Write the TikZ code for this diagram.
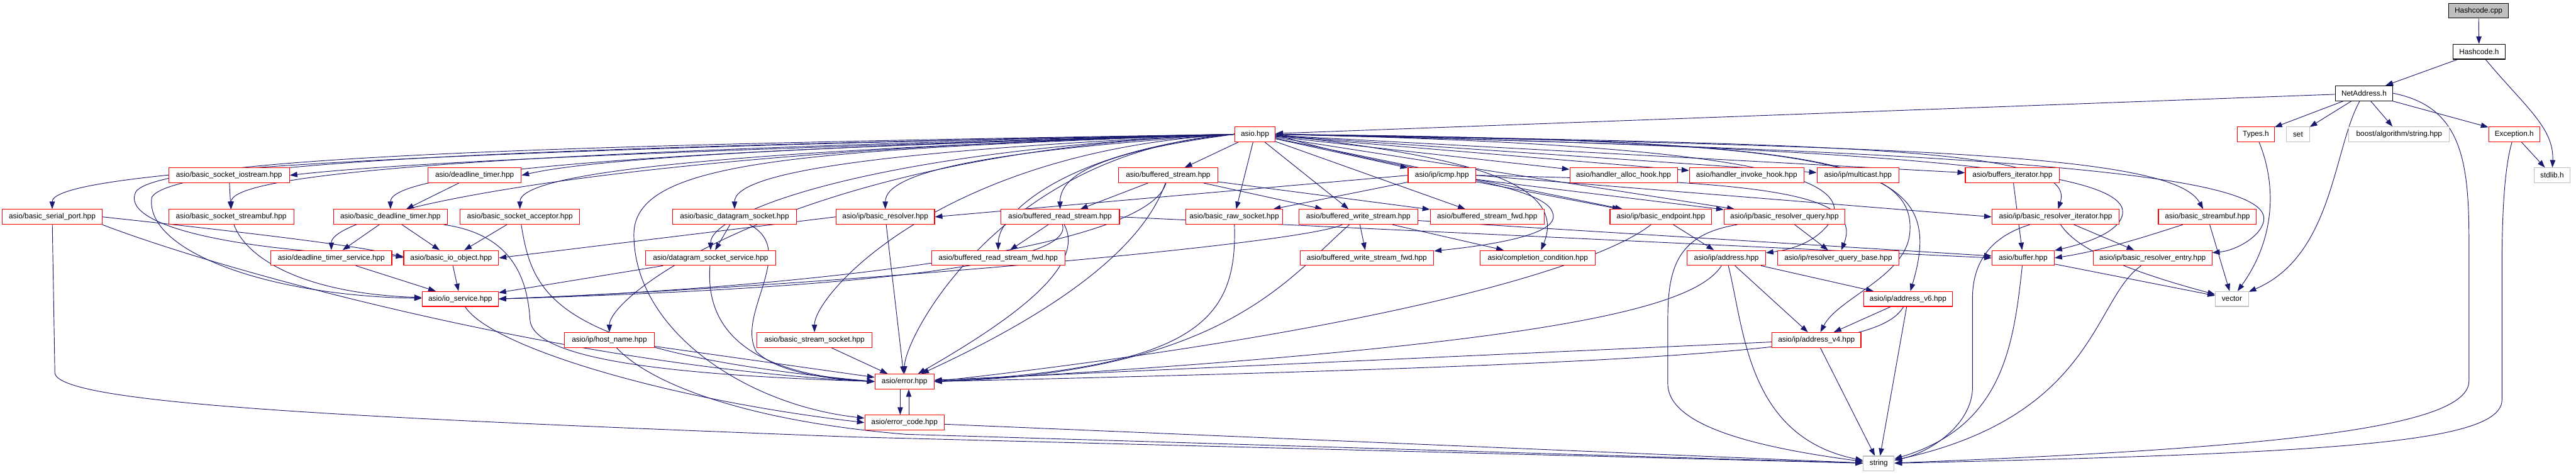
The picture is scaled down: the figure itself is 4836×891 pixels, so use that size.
\documentclass[tikz,border=0pt]{standalone}
\usepackage{fontspec}
\setmainfont{Liberation Sans}
\usetikzlibrary{arrows.meta,calc}
\definecolor{mblue}{HTML}{191970}
\definecolor{sysgray}{HTML}{BFBFBF}
\pgfdeclarelayer{edges}
\pgfsetlayers{edges,main}

\begin{document}
\begin{tikzpicture}[
  x=1pt, y=-1pt,
  font=\fontsize{14}{16}\selectfont,
  box/.style={draw, line width=1.3pt, fill=white, minimum height=28pt,
              inner xsep=3pt, inner ysep=0pt},
  hdr/.style={box, draw=red},
  loc/.style={box, draw=black},
  cur/.style={box, draw=black, fill=sysgray},
  sys/.style={box, draw=sysgray},
  dep/.style={draw=mblue, line width=1.1pt, -{Triangle[length=14pt,width=10pt]}},
  fan/.style={to path={.. controls ($(\tikztostart)!#1!(\tikztotarget|-\tikztostart)+(0,30)$)
              and ($(\tikztotarget)+(0,-85)$) .. (\tikztotarget)}},
  fan/.default=0.7
]
\useasboundingbox (0,0) rectangle (4836,891);

% ---- Top: the file and its own headers ----
\node[cur, minimum width=113pt] (cpp) at (4653,20) {Hashcode.cpp};
\node[loc, minimum width=98pt] (hch) at (4654,97) {Hashcode.h};
\node[loc, minimum width=108pt] (net) at (4438,175) {NetAddress.h};

% ---- Row 3 ----
\node[hdr, minimum width=76pt] (asio) at (2356,252) {asio.hpp};
\node[hdr, minimum width=69pt] (types) at (4235,252) {Types.h};
\node[sys, minimum width=43pt] (stdset) at (4314,252) {set};
\node[sys, minimum width=189pt] (boost) at (4504,252) {boost/algorithm/string.hpp};
\node[hdr, minimum width=96pt] (exc) at (4720,252) {Exception.h};

% ---- Row 4 ----
\node[hdr, minimum width=227pt] (bsiostream) at (430,329) {asio/basic\_socket\_iostream.hpp};
\node[hdr, minimum width=175pt] (dtimer) at (891,329) {asio/deadline\_timer.hpp};
\node[hdr, minimum width=187pt] (bstream) at (2193,329) {asio/buffered\_stream.hpp};
\node[hdr, minimum width=127pt] (icmp) at (2707,329) {asio/ip/icmp.hpp};
\node[hdr, minimum width=202pt] (halloc) at (3048,329) {asio/handler\_alloc\_hook.hpp};
\node[hdr, minimum width=215pt] (hinvoke) at (3279,329) {asio/handler\_invoke\_hook.hpp};
\node[hdr, minimum width=154pt] (mcast) at (3488,329) {asio/ip/multicast.hpp};
\node[hdr, minimum width=177pt] (bufit) at (3778,329) {asio/buffers\_iterator.hpp};
\node[sys, minimum width=67pt] (stdlib) at (4791,329) {stdlib.h};

% ---- Row 5 ----
\node[hdr, minimum width=187pt] (bserial) at (98,407) {asio/basic\_serial\_port.hpp};
\node[hdr, minimum width=235pt] (bsstreambuf) at (434,407) {asio/basic\_socket\_streambuf.hpp};
\node[hdr, minimum width=214pt] (bdtimer) at (733,407) {asio/basic\_deadline\_timer.hpp};
\node[hdr, minimum width=224pt] (bsacceptor) at (976,407) {asio/basic\_socket\_acceptor.hpp};
\node[hdr, minimum width=233pt] (bdgram) at (1379,407) {asio/basic\_datagram\_socket.hpp};
\node[hdr, minimum width=185pt] (ipbresolver) at (1662,407) {asio/ip/basic\_resolver.hpp};
\node[hdr, minimum width=223pt] (brstream) at (1990,407) {asio/buffered\_read\_stream.hpp};
\node[hdr, minimum width=182pt] (braw) at (2317,407) {asio/basic\_raw\_socket.hpp};
\node[hdr, minimum width=223pt] (bwstream) at (2550,407) {asio/buffered\_write\_stream.hpp};
\node[hdr, minimum width=214pt] (bsfwd) at (2792,407) {asio/buffered\_stream\_fwd.hpp};
\node[hdr, minimum width=191pt] (ipbendpoint) at (3118,407) {asio/ip/basic\_endpoint.hpp};
\node[hdr, minimum width=227pt] (ipbrquery) at (3350,407) {asio/ip/basic\_resolver\_query.hpp};
\node[hdr, minimum width=239pt] (ipbriter) at (3859,407) {asio/ip/basic\_resolver\_iterator.hpp};
\node[hdr, minimum width=184pt] (bstreambuf) at (4144,407) {asio/basic\_streambuf.hpp};

% ---- Row 6 ----
\node[hdr, minimum width=227pt] (dtservice) at (622,484) {asio/deadline\_timer\_service.hpp};
\node[hdr, minimum width=178pt] (bioobj) at (847,484) {asio/basic\_io\_object.hpp};
\node[hdr, minimum width=245pt] (dgservice) at (1334,484) {asio/datagram\_socket\_service.hpp};
\node[hdr, minimum width=250pt] (brsfwd) at (1874,484) {asio/buffered\_read\_stream\_fwd.hpp};
\node[hdr, minimum width=251pt] (bwsfwd) at (2566,484) {asio/buffered\_write\_stream\_fwd.hpp};
\node[hdr, minimum width=216pt] (compcond) at (2887,484) {asio/completion\_condition.hpp};
\node[hdr, minimum width=147pt] (ipaddr) at (3241,484) {asio/ip/address.hpp};
\node[hdr, minimum width=227pt] (iprqbase) at (3451,484) {asio/ip/resolver\_query\_base.hpp};
\node[hdr, minimum width=117pt] (buffer) at (3798,484) {asio/buffer.hpp};
\node[hdr, minimum width=223pt] (ipbrentry) at (4041,484) {asio/ip/basic\_resolver\_entry.hpp};

% ---- Rows 7 to 11 ----
\node[hdr, minimum width=143pt] (ioservice) at (864,561) {asio/io\_service.hpp};
\node[hdr, minimum width=167pt] (ipaddr6) at (3582,561) {asio/ip/address\_v6.hpp};
\node[sys, minimum width=62pt] (vector) at (4190,561) {vector};
\node[hdr, minimum width=168pt] (iphost) at (1144,638) {asio/ip/host\_name.hpp};
\node[hdr, minimum width=216pt] (bssocket) at (1529,638) {asio/basic\_stream\_socket.hpp};
\node[hdr, minimum width=167pt] (ipaddr4) at (3410,638) {asio/ip/address\_v4.hpp};
\node[hdr, minimum width=111pt] (error) at (1698,716) {asio/error.hpp};
\node[hdr, minimum width=149pt] (errcode) at (1698,793) {asio/error\_code.hpp};
\node[sys, minimum width=58pt] (string) at (3527,870) {string};

\begin{pgfonlayer}{edges}
% ---- Top wiring ----
\draw[dep] (cpp) -- (hch);
\draw[dep] (hch) -- (net);
\draw[dep] (hch) .. controls (4740,200) and (4795,240) .. (stdlib);
\draw[dep] (net) -- (asio);
\draw[dep] (net) -- (types);
\draw[dep] (net) -- (stdset);
\draw[dep] (net) -- (boost);
\draw[dep] (net) -- (exc);
\draw[dep] (net) .. controls (4380,280) and (4380,480) .. (vector);
\draw[dep] (net.east) .. controls (4620,200) and (4635,300) .. (4635,450)
  -- (4635,715) .. controls (4635,800) and (4300,840) .. (string);
\draw[dep] (exc) -- (stdlib);
\draw[dep] (exc) .. controls (4700,320) and (4697,420) .. (4697,500)
  -- (4697,750) .. controls (4697,830) and (4400,850) .. (string);
\draw[dep] (types) .. controls (4275,350) and (4270,450) .. (vector);

% ---- asio.hpp fan to the left ----
\foreach \t in {bserial,bsstreambuf,bdtimer,bsacceptor,
                bdgram,ipbresolver,brstream,dtservice,dgservice,brsfwd,
                iphost,bssocket,error}
  \draw[dep] (asio.west) to[fan] (\t);
\draw[dep] (asio.west) .. controls (1500,275) and (800,300) .. (bsiostream.east);
\draw[dep] (asio.west) .. controls (1700,270) and (1150,290) .. (dtimer.east);
\draw[dep] (asio.west) .. controls (1200,270) and (300,290) .. (255,360)
  .. controls (225,420) and (420,470) .. (bioobj);
\draw[dep] (asio.west) .. controls (1200,274) and (330,295) .. (285,370)
  .. controls (270,470) and (500,555) .. (ioservice);
\draw[dep] (asio.west) .. controls (1500,282) and (1190,300) .. (1190,440)
  .. controls (1190,620) and (1400,760) .. (errcode);

% ---- asio.hpp straight and to the right ----
\foreach \t in {bstream,braw,icmp,bwstream,bsfwd,ipbendpoint,halloc,
                hinvoke,mcast,bufit,ipbrquery}
  \draw[dep] (asio) -- (\t);
\draw[dep] (asio.east) .. controls (2600,320) and (2900,340) .. (2915,400)
  .. controls (2930,440) and (2800,460) .. (bwsfwd);
\draw[dep] (asio.east) .. controls (2700,290) and (2950,330) .. (compcond);
\draw[dep] (asio.east) .. controls (3200,270) and (3480,320) .. (3440,410)
  .. controls (3410,460) and (3350,470) .. (ipaddr);
\draw[dep] (asio.east) .. controls (3500,265) and (3660,300) .. (ipaddr6);
\draw[dep] (asio.east) .. controls (3400,262) and (3600,300) .. (3585,440)
  .. controls (3575,520) and (3450,560) .. (ipaddr4);
\draw[dep] (asio.east) .. controls (3500,270) and (3900,280) .. (ipbriter);
\draw[dep] (asio.east) .. controls (3600,275) and (4080,290) .. (bstreambuf);
\draw[dep] (asio.east) .. controls (3700,280) and (3990,330) .. (3985,400)
  .. controls (3980,440) and (3900,460) .. (buffer);
\draw[dep] (asio.east) .. controls (3800,285) and (4250,330) .. (4250,410)
  .. controls (4250,440) and (4200,470) .. (ipbrentry);

% ---- Left part ----
\draw[dep] (bsiostream) -- (bsstreambuf);
\draw[dep] (bsstreambuf) .. controls (460,480) and (560,550) .. (ioservice);
\draw[dep] (dtimer) -- (bdtimer);
\draw[dep] (bdtimer) -- (dtservice);
\draw[dep] (bdtimer) -- (bioobj);
\draw[dep] (bdtimer) .. controls (960,440) and (990,520) .. (995,600)
  .. controls (1000,680) and (1300,705) .. (error.west);
\draw[dep] (bserial.east) .. controls (500,440) and (700,465) .. (bioobj.west);
\draw[dep] (bserial.south east) .. controls (450,520) and (1100,690) .. (error.west);
\draw[dep] (bserial) -- (103,700) .. controls (110,760) and (700,785)
  .. (1600,820) -- (string);
\draw[dep] (bsacceptor) -- (bioobj);
\draw[dep] (bsacceptor) .. controls (1000,550) and (1030,660) .. (error.west);
\draw[dep] (bdgram) -- (dgservice);
\draw[dep] (bdgram) .. controls (1500,470) and (1380,590) .. (1420,660)
  .. controls (1460,700) and (1560,712) .. (error.west);
\draw[dep] (ipbresolver.west) -- (bioobj.east);
\draw[dep] (ipbresolver) -- (error);
\draw[dep] (dtservice) -- (ioservice);
\draw[dep] (bioobj) -- (ioservice);
\draw[dep] (dgservice) -- (ioservice);
\draw[dep] (dgservice) .. controls (1325,600) and (1380,700) .. (error.west);
\draw[dep] (ioservice) .. controls (920,650) and (1250,750) .. (errcode.west);
\draw[dep] (iphost) -- (error);
\draw[dep] (iphost) .. controls (1220,720) and (1400,790) .. (1700,815) -- (string);
\draw[dep] (bssocket) -- (error);
\draw[dep] ([xshift=-8pt]error.south) -- ([xshift=-8pt]errcode.north);
\draw[dep] ([xshift=8pt]errcode.north) -- ([xshift=8pt]error.south);
\draw[dep] (errcode) -- (string);

% ---- Buffered streams ----
\draw[dep] (bstream) -- (brstream);
\draw[dep] (bstream) -- (bwstream);
\draw[dep] (bstream) -- (bsfwd);
\draw[dep] (bstream) .. controls (2140,480) and (1950,600) .. (error);
\draw[dep] (bstream) .. controls (2150,480) and (1400,545) .. (ioservice.east);
\draw[dep] (brstream) -- (brsfwd);
\draw[dep] (brstream) .. controls (2025,520) and (1300,550) .. (ioservice.east);
\draw[dep] (brstream) .. controls (2040,500) and (1900,600) .. (error);
\draw[dep] (brstream.east) -- (buffer.west);
\draw[dep] (braw) .. controls (2323,600) and (2250,690) .. (error.east);
\draw[dep] (bwstream) -- (bwsfwd);
\draw[dep] (bwstream) -- (compcond);
\draw[dep] (bwstream) -- (buffer);
\draw[dep] (bwstream) .. controls (2440,460) and (1500,540) .. (ioservice.east);
\draw[dep] (bwstream) .. controls (2420,520) and (2300,700) .. (error.east);

% ---- ip part ----
\draw[dep] (icmp) -- (braw);
\draw[dep] (icmp.west) -- (ipbresolver.east);
\draw[dep] (icmp) -- (ipbendpoint);
\draw[dep] (icmp) -- (ipbrquery);
\draw[dep] (icmp.east) -- (ipbriter.west);
\draw[dep] (icmp.east) .. controls (3300,340) and (3500,360) .. (iprqbase);
\draw[dep] (ipbendpoint) -- (ipaddr);
\draw[dep] (ipbendpoint) .. controls (3000,500) and (2600,620) .. (error.east);
\draw[dep] (ipbrquery) -- (iprqbase);
\draw[dep] (ipbrquery) .. controls (3150,440) and (3131,500) .. (3131,600)
  -- (3131,720) .. controls (3131,800) and (3300,840) .. (string);
\draw[dep] (ipbriter) -- (ipbrentry);
\draw[dep] (ipbriter) .. controls (3900,470) and (4000,510) .. (vector);
\draw[dep] (ipbriter) .. controls (3750,440) and (3703,480) .. (3703,560)
  -- (3703,730) .. controls (3700,800) and (3620,850) .. (string);
\draw[dep] (ipbrentry) .. controls (3930,560) and (3935,780) .. (string);
\draw[dep] (bufit) -- (buffer);
\draw[dep] (bstreambuf) -- (vector);
\draw[dep] (bstreambuf) .. controls (4040,440) and (3950,470) .. (buffer.east);
\draw[dep] (buffer) -- (vector);
\draw[dep] (buffer) .. controls (3780,650) and (3760,800) .. (string);
\draw[dep] (ipaddr) -- (ipaddr6);
\draw[dep] (ipaddr) -- (ipaddr4);
\draw[dep] (ipaddr) .. controls (3275,620) and (3280,820) .. (string);
\draw[dep] (ipaddr) .. controls (3180,580) and (2900,650) .. (error.east);
\draw[dep] (ipaddr6) -- (ipaddr4);
\draw[dep] (ipaddr6) -- (string);
\draw[dep] (ipaddr6) .. controls (3530,650) and (3300,680) .. (error.east);
\draw[dep] (ipaddr4) -- (string);
\draw[dep] (ipaddr4) -- (error);
\end{pgfonlayer}
\end{tikzpicture}
\end{document}
